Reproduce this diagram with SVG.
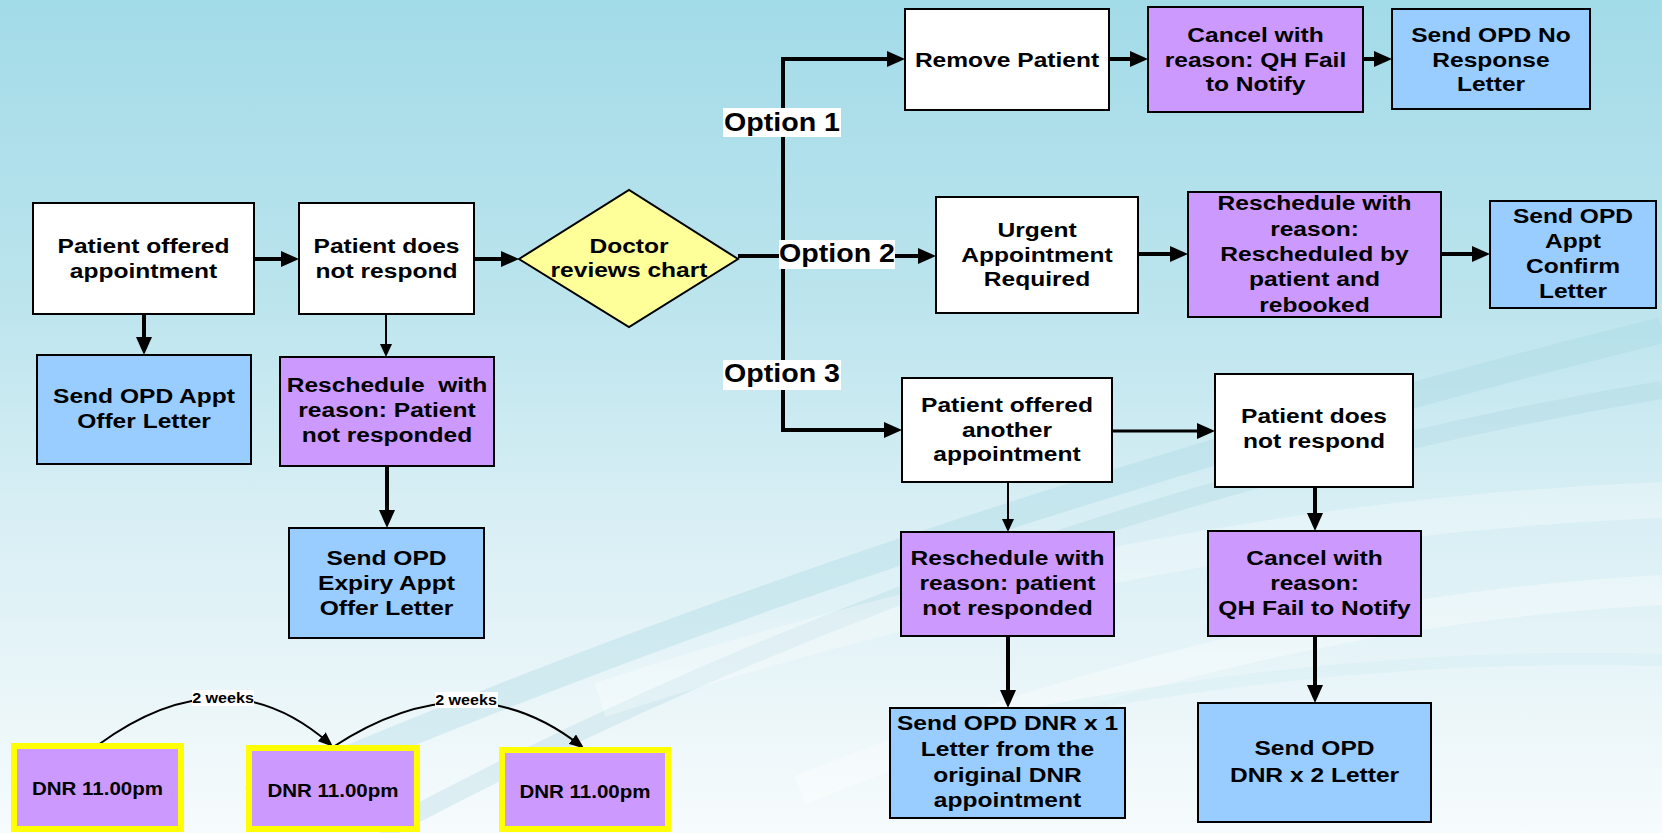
<svg xmlns="http://www.w3.org/2000/svg" width="1662" height="833" viewBox="0 0 1662 833">
<defs>
<linearGradient id="bg" x1="0" y1="0" x2="0" y2="1">
<stop offset="0" stop-color="#A2DBE8"/>
<stop offset="0.35" stop-color="#BBE4ED"/>
<stop offset="0.6" stop-color="#D6EEF4"/>
<stop offset="0.85" stop-color="#EBF6F9"/>
<stop offset="1" stop-color="#F6FBFD"/>
</linearGradient>
<marker id="ah" markerUnits="userSpaceOnUse" markerWidth="18" markerHeight="16" refX="12" refY="8" orient="auto">
<path d="M0,0 L18,8 L0,16 z" fill="#000"/>
</marker>
<marker id="as" markerUnits="userSpaceOnUse" markerWidth="13" markerHeight="12" refX="9" refY="6" orient="auto">
<path d="M0,0 L13,6 L0,12 z" fill="#000"/>
</marker>
<marker id="ac" markerUnits="userSpaceOnUse" markerWidth="15" markerHeight="12" refX="11" refY="6" orient="auto">
<path d="M0,0 L15,6 L0,12 z" fill="#000"/>
</marker>
</defs>
<style>
.box{stroke:#000;stroke-width:2}
.w{fill:#FFFFFF}
.b{fill:#99CCFF}
.p{fill:#CC99FF}
.y{fill:#FFFF99}
.dnr{fill:#CC99FF;stroke:#FFFF00;stroke-width:6}
.t{font-family:"Liberation Sans",Arial,sans-serif;font-weight:bold;font-size:21px;text-anchor:middle;fill:#000}
.o{font-family:"Liberation Sans",Arial,sans-serif;font-weight:bold;font-size:26px;text-anchor:middle;fill:#000}
.d{font-family:"Liberation Sans",Arial,sans-serif;font-weight:bold;font-size:19px;text-anchor:middle;fill:#000}
.k{font-family:"Liberation Sans",Arial,sans-serif;font-weight:bold;font-size:14px;text-anchor:middle;fill:#000}
.lbl{fill:#FFFFFF}
.c4{fill:none;stroke:#000;stroke-width:4}
.c3{fill:none;stroke:#000;stroke-width:3}
.c2{fill:none;stroke:#000;stroke-width:2}
.sw{fill:none}
</style>
<g id="background">
<rect x="0" y="0" width="1662" height="833" fill="url(#bg)"/>
<path class="sw" d="M250,800 Q900,520 1662,330" stroke="#A6D6E1" stroke-opacity="0.35" stroke-width="26"/>
<path class="sw" d="M380,833 Q1000,500 1662,390" stroke="#A9D3DD" stroke-opacity="0.3" stroke-width="18"/>
<path class="sw" d="M600,700 Q1150,520 1662,500" stroke="#FFFFFF" stroke-opacity="0.3" stroke-width="36"/>
<path class="sw" d="M800,790 Q1250,610 1662,590" stroke="#FFFFFF" stroke-opacity="0.35" stroke-width="30"/>
<path class="sw" d="M1000,720 Q1350,650 1662,660" stroke="#D3EDF2" stroke-opacity="0.4" stroke-width="12"/>
</g>
<g id="connectors">
<line class="c4" x1="254" y1="259" x2="293" y2="259" marker-end="url(#ah)"/>
<line class="c4" x1="474" y1="259" x2="513" y2="259" marker-end="url(#ah)"/>
<line class="c4" x1="144" y1="314" x2="144" y2="349" marker-end="url(#ah)"/>
<line class="c2" x1="386" y1="314" x2="386" y2="353" marker-end="url(#as)"/>
<line class="c4" x1="387" y1="466" x2="387" y2="522" marker-end="url(#ah)"/>
<polyline class="c4" points="738,256 783,256"/>
<polyline class="c4" points="783,59 783,430 896,430" marker-end="url(#ah)"/>
<line class="c4" x1="781" y1="59" x2="899" y2="59" marker-end="url(#ah)"/>
<line class="c4" x1="1109" y1="59" x2="1142" y2="59" marker-end="url(#ah)"/>
<line class="c4" x1="1363" y1="59" x2="1386" y2="59" marker-end="url(#ah)"/>
<line class="c4" x1="783" y1="256" x2="930" y2="256" marker-end="url(#ah)"/>
<line class="c4" x1="1138" y1="254" x2="1182" y2="254" marker-end="url(#ah)"/>
<line class="c4" x1="1441" y1="254" x2="1484" y2="254" marker-end="url(#ah)"/>
<line class="c3" x1="1112" y1="431" x2="1209" y2="431" marker-end="url(#ah)"/>
<line class="c2" x1="1008" y1="482" x2="1008" y2="528" marker-end="url(#as)"/>
<line class="c4" x1="1008" y1="636" x2="1008" y2="702" marker-end="url(#ah)"/>
<line class="c4" x1="1315" y1="487" x2="1315" y2="525" marker-end="url(#ah)"/>
<line class="c4" x1="1315" y1="636" x2="1315" y2="697" marker-end="url(#ah)"/>
<path class="c2" d="M98,745 Q225,652 330,744" marker-end="url(#ac)"/>
<path class="c2" d="M333,747 Q469,658 581,746" marker-end="url(#ac)"/>
<g id="label-opt1"><rect class="lbl" x="723" y="108" width="118" height="29"/><text class="o" transform="translate(782,0) scale(1.1,1)" x="0" y="131">Option 1</text></g>
<g id="label-opt2"><rect class="lbl" x="779" y="240" width="116" height="29"/><text class="o" transform="translate(837,0) scale(1.1,1)" x="0" y="262">Option 2</text></g>
<g id="label-opt3"><rect class="lbl" x="723" y="360" width="118" height="30"/><text class="o" transform="translate(782,0) scale(1.1,1)" x="0" y="382">Option 3</text></g>
<g id="label-2w1"><rect class="lbl" x="192" y="690" width="62" height="16"/><text class="k" transform="translate(223,0) scale(1.15,1)" x="0" y="703">2 weeks</text></g>
<g id="label-2w2"><rect class="lbl" x="435" y="692" width="63" height="16"/><text class="k" transform="translate(466,0) scale(1.15,1)" x="0" y="705">2 weeks</text></g>
</g>
<g id="n1"><rect class="box w" x="33" y="203" width="221" height="111"/>
<text class="t" transform="translate(143.5,0) scale(1.17,1)"><tspan x="0" y="253">Patient offered</tspan><tspan x="0" y="278">appointment</tspan></text></g>
<g id="n2"><rect class="box w" x="299" y="203" width="175" height="111"/>
<text class="t" transform="translate(386.5,0) scale(1.17,1)"><tspan x="0" y="253">Patient does</tspan><tspan x="0" y="278">not respond</tspan></text></g>
<g id="n3"><polygon class="box y" points="519,259 629,190 738,259 629,327"/>
<text class="t" transform="translate(629,0) scale(1.17,1)"><tspan x="0" y="253">Doctor</tspan><tspan x="0" y="277">reviews chart</tspan></text></g>
<g id="n4"><rect class="box b" x="37" y="355" width="214" height="109"/>
<text class="t" transform="translate(144,0) scale(1.17,1)"><tspan x="0" y="403">Send OPD Appt</tspan><tspan x="0" y="428">Offer Letter</tspan></text></g>
<g id="n5"><rect class="box p" x="280" y="357" width="214" height="109"/>
<text class="t" transform="translate(387,0) scale(1.17,1)" xml:space="preserve"><tspan x="0" y="392">Reschedule  with</tspan><tspan x="0" y="417">reason: Patient</tspan><tspan x="0" y="442">not responded</tspan></text></g>
<g id="n6"><rect class="box b" x="289" y="528" width="195" height="110"/>
<text class="t" transform="translate(386.5,0) scale(1.17,1)"><tspan x="0" y="565">Send OPD</tspan><tspan x="0" y="590">Expiry Appt</tspan><tspan x="0" y="615">Offer Letter</tspan></text></g>
<g id="n7"><rect class="box w" x="905" y="9" width="204" height="101"/>
<text class="t" transform="translate(1007,0) scale(1.17,1)" x="0" y="67">Remove Patient</text></g>
<g id="n8"><rect class="box p" x="1148" y="7" width="215" height="105"/>
<text class="t" transform="translate(1255.5,0) scale(1.17,1)"><tspan x="0" y="42">Cancel with</tspan><tspan x="0" y="67">reason: QH Fail</tspan><tspan x="0" y="91">to Notify</tspan></text></g>
<g id="n9"><rect class="box b" x="1392" y="9" width="198" height="100"/>
<text class="t" transform="translate(1491,0) scale(1.17,1)"><tspan x="0" y="42">Send OPD No</tspan><tspan x="0" y="67">Response</tspan><tspan x="0" y="91">Letter</tspan></text></g>
<g id="n10"><rect class="box w" x="936" y="197" width="202" height="116"/>
<text class="t" transform="translate(1037,0) scale(1.17,1)"><tspan x="0" y="237">Urgent</tspan><tspan x="0" y="262">Appointment</tspan><tspan x="0" y="286">Required</tspan></text></g>
<g id="n11"><rect class="box p" x="1188" y="192" width="253" height="125"/>
<text class="t" transform="translate(1314.5,0) scale(1.17,1)"><tspan x="0" y="210">Reschedule with</tspan><tspan x="0" y="236">reason:</tspan><tspan x="0" y="261">Rescheduled by</tspan><tspan x="0" y="286">patient and</tspan><tspan x="0" y="312">rebooked</tspan></text></g>
<g id="n12"><rect class="box b" x="1490" y="201" width="166" height="107"/>
<text class="t" transform="translate(1573,0) scale(1.17,1)"><tspan x="0" y="223">Send OPD</tspan><tspan x="0" y="248">Appt</tspan><tspan x="0" y="273">Confirm</tspan><tspan x="0" y="298">Letter</tspan></text></g>
<g id="n13"><rect class="box w" x="902" y="378" width="210" height="104"/>
<text class="t" transform="translate(1007,0) scale(1.17,1)"><tspan x="0" y="412">Patient offered</tspan><tspan x="0" y="437">another</tspan><tspan x="0" y="461">appointment</tspan></text></g>
<g id="n14"><rect class="box w" x="1215" y="374" width="198" height="113"/>
<text class="t" transform="translate(1314,0) scale(1.17,1)"><tspan x="0" y="423">Patient does</tspan><tspan x="0" y="448">not respond</tspan></text></g>
<g id="n15"><rect class="box p" x="901" y="532" width="213" height="104"/>
<text class="t" transform="translate(1007.5,0) scale(1.17,1)"><tspan x="0" y="565">Reschedule with</tspan><tspan x="0" y="590">reason: patient</tspan><tspan x="0" y="615">not responded</tspan></text></g>
<g id="n16"><rect class="box p" x="1208" y="531" width="213" height="105"/>
<text class="t" transform="translate(1314.5,0) scale(1.17,1)"><tspan x="0" y="565">Cancel with</tspan><tspan x="0" y="590">reason:</tspan><tspan x="0" y="615">QH Fail to Notify</tspan></text></g>
<g id="n17"><rect class="box b" x="890" y="708" width="235" height="110"/>
<text class="t" transform="translate(1007.5,0) scale(1.17,1)"><tspan x="0" y="730">Send OPD DNR x 1</tspan><tspan x="0" y="756">Letter from the</tspan><tspan x="0" y="782">original DNR</tspan><tspan x="0" y="807">appointment</tspan></text></g>
<g id="n18"><rect class="box b" x="1198" y="703" width="233" height="119"/>
<text class="t" transform="translate(1314.5,0) scale(1.17,1)"><tspan x="0" y="755">Send OPD</tspan><tspan x="0" y="782">DNR x 2 Letter</tspan></text></g>
<g id="dnr1"><rect class="dnr" x="14" y="746" width="167" height="83"/>
<text class="d" transform="translate(97.5,0) scale(1.08,1)" x="0" y="795">DNR 11.00pm</text></g>
<g id="dnr2"><rect class="dnr" x="249" y="748" width="168" height="81"/>
<text class="d" transform="translate(333,0) scale(1.08,1)" x="0" y="797">DNR 11.00pm</text></g>
<g id="dnr3"><rect class="dnr" x="502" y="750" width="166" height="79"/>
<text class="d" transform="translate(585,0) scale(1.08,1)" x="0" y="798">DNR 11.00pm</text></g>
</svg>
